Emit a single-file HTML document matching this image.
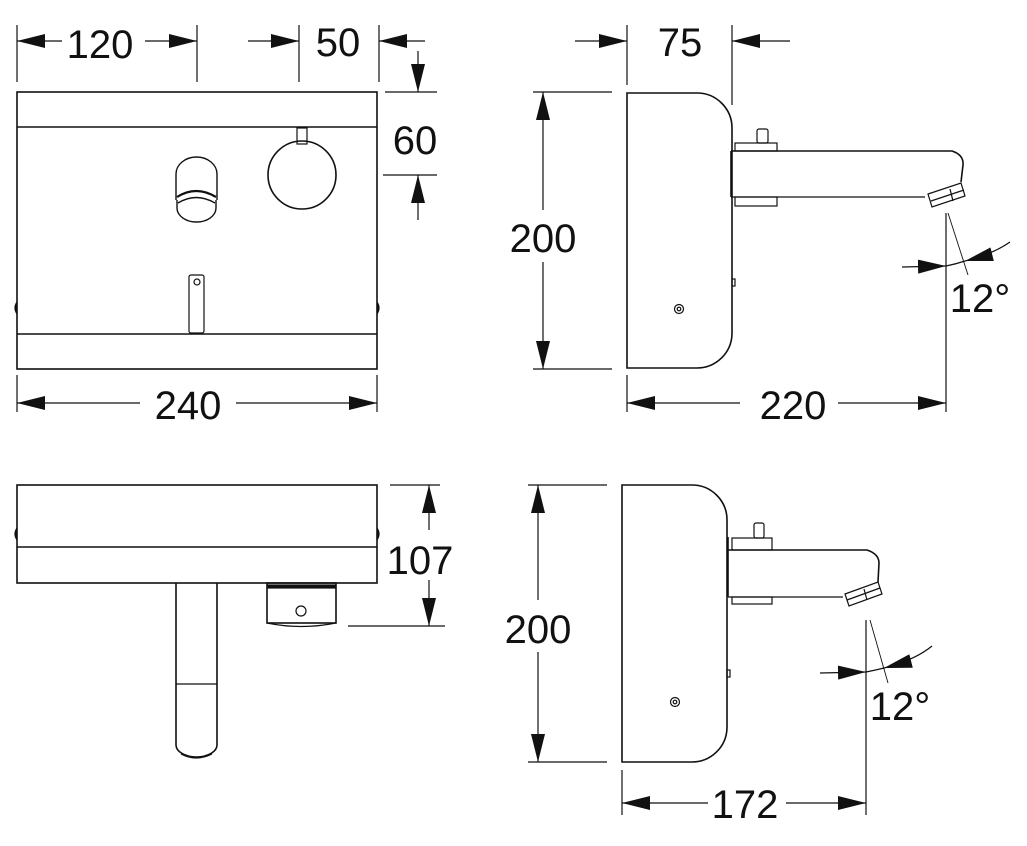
<!DOCTYPE html>
<html><head><meta charset="utf-8"><style>
html,body{margin:0;padding:0;background:#fff}
svg{display:block}
text{font-family:"Liberation Sans",sans-serif;font-size:40px;fill:#111;stroke:none;text-anchor:middle}
</style></head><body>
<svg width="1027" height="846" viewBox="0 0 1027 846" xmlns="http://www.w3.org/2000/svg">
<defs>
<marker id="a" markerUnits="userSpaceOnUse" markerWidth="28" markerHeight="14" viewBox="0 0 28 14" refX="28" refY="7" orient="auto-start-reverse"><path d="M0,0 L28,7 L0,14z" fill="#111" stroke="none"/></marker>
</defs>
<g fill="none" stroke="#111" stroke-width="1.2">
<!-- TOP LEFT VIEW -->
<rect x="17" y="92" width="360" height="277" stroke-width="1.6"/>
<line x1="17" y1="127" x2="377" y2="127" stroke-width="1.6"/>
<line x1="17" y1="334" x2="377" y2="334" stroke-width="1.6"/>
<path d="M176,200 V174 A20.5,17 0 0 1 217,174 V200" stroke-width="1.4"/>
<path d="M177,197 Q196,185 216,197" stroke-width="2.2"/>
<path d="M178,203 Q196,192 215,203" stroke-width="1.4"/>
<path d="M177,200 V208 A19.5,14 0 0 0 216,208 V200" stroke-width="1.4"/>
<circle cx="302" cy="175" r="34" stroke-width="1.6"/>
<rect x="297" y="128" width="10" height="16"/>
<rect x="189" y="275" width="15" height="58" rx="2"/>
<circle cx="197" cy="282" r="3"/>
<path d="M17,302 q-4,6 0,12" fill="#111"/><path d="M377,302 q4,6 0,12" fill="#111"/>
<!-- dims -->
<line x1="17" y1="25" x2="17" y2="82"/><line x1="197" y1="25" x2="197" y2="82"/>
<line x1="62" y1="41" x2="17" y2="41" marker-end="url(#a)"/><line x1="145" y1="41" x2="197" y2="41" marker-end="url(#a)"/>
<text x="100" y="58">120</text>
<line x1="299" y1="25" x2="299" y2="82"/><line x1="379" y1="25" x2="379" y2="82"/>
<line x1="248" y1="41" x2="299" y2="41" marker-end="url(#a)"/><line x1="425" y1="41" x2="379" y2="41" marker-end="url(#a)"/>
<text x="338" y="56">50</text>
<line x1="385" y1="92" x2="437" y2="92"/><line x1="383" y1="175" x2="437" y2="175"/>
<line x1="418" y1="51" x2="418" y2="92" marker-end="url(#a)"/><line x1="418" y1="220" x2="418" y2="175" marker-end="url(#a)"/>
<text x="415" y="154">60</text>
<line x1="17" y1="375" x2="17" y2="412"/><line x1="377" y1="375" x2="377" y2="412"/>
<line x1="140" y1="403" x2="17" y2="403" marker-end="url(#a)"/><line x1="236" y1="403" x2="377" y2="403" marker-end="url(#a)"/>
<text x="188" y="419">240</text>

<!-- TOP RIGHT VIEW -->
<path d="M627,93 H697 A35,35 0 0 1 732,128 V334 A35,35 0 0 1 697,368 H627 Z" stroke-width="1.6"/>
<path d="M731,151 H952 Q964,155 963,165 L961,182" stroke-width="1.6"/>
<line x1="731" y1="151" x2="731" y2="197" stroke-width="1.6"/>
<path d="M731,197 H925"/>
<path d="M928,194 L961,183 L965,196 L932,207 Z"/><path d="M931,201 L964,190"/><line x1="950" y1="189" x2="953" y2="201"/>
<rect x="735" y="143" width="42" height="8"/><rect x="757" y="129" width="11" height="14" rx="2"/>
<rect x="735" y="197" width="42" height="9"/>
<circle cx="679" cy="309" r="4.5"/><circle cx="679" cy="309" r="1.8"/>
<rect x="732" y="279" width="3" height="7"/>
<line x1="627" y1="25" x2="627" y2="85"/><line x1="732" y1="25" x2="732" y2="105"/>
<line x1="575" y1="41" x2="627" y2="41" marker-end="url(#a)"/><line x1="790" y1="41" x2="732" y2="41" marker-end="url(#a)"/>
<text x="680" y="56">75</text>
<line x1="533" y1="92" x2="612" y2="92"/><line x1="533" y1="369" x2="612" y2="369"/>
<line x1="543" y1="210" x2="543" y2="92" marker-end="url(#a)"/><line x1="543" y1="262" x2="543" y2="369" marker-end="url(#a)"/>
<text x="543" y="252">200</text>
<line x1="627" y1="375" x2="627" y2="412"/><line x1="946" y1="213" x2="946" y2="412"/>
<line x1="740" y1="403" x2="627" y2="403" marker-end="url(#a)"/><line x1="838" y1="403" x2="946" y2="403" marker-end="url(#a)"/>
<text x="793" y="419">220</text>
<line x1="948" y1="213" x2="968" y2="275" stroke-width="0.9"/>
<path d="M902,267 L946,266" marker-end="url(#a)"/>
<path d="M1010,242 Q993,254 965,261" marker-end="url(#a)"/>
<path d="M946,266 Q956,264 965,261"/>
<text x="980" y="312">12°</text>

<!-- BOTTOM LEFT VIEW -->
<rect x="17" y="485" width="360" height="98" stroke-width="1.6"/>
<line x1="17" y1="547" x2="377" y2="547" stroke-width="1.6"/>
<path d="M17,528 q-4,6 0,12" fill="#111"/><path d="M377,528 q4,6 0,12" fill="#111"/>
<path d="M176,583 V745 A20.5,12 0 0 0 217,745 V583" stroke-width="1.6"/>
<line x1="176" y1="684" x2="217" y2="684"/>
<path d="M181,754 Q196,762 212,754"/>
<rect x="267" y="583" width="69" height="40" stroke-width="1.6"/>
<rect x="268" y="585" width="67" height="3" fill="#111"/>
<path d="M267,623 Q301,630 336,623"/>
<circle cx="301" cy="611" r="5"/>
<line x1="390" y1="485" x2="440" y2="485"/><line x1="348" y1="626" x2="445" y2="626"/>
<line x1="429" y1="530" x2="429" y2="485" marker-end="url(#a)"/><line x1="429" y1="580" x2="429" y2="626" marker-end="url(#a)"/>
<text x="420" y="574">107</text>

<!-- BOTTOM RIGHT VIEW -->
<path d="M622,485 H692 A35,35 0 0 1 727,520 V728 A35,35 0 0 1 692,762 H622 Z" stroke-width="1.6"/>
<path d="M728,550 H867 Q879,554 879,563 L878,582" stroke-width="1.6"/>
<line x1="728" y1="537" x2="728" y2="597" stroke-width="1.6"/>
<path d="M728,597 H843"/>
<path d="M845,594 L878,582 L882,594 L849,606 Z"/><path d="M847,600 L880,588"/><line x1="864" y1="589" x2="867" y2="600"/>
<rect x="732" y="538" width="40" height="12"/><rect x="754" y="523" width="10" height="15" rx="2"/>
<rect x="732" y="597" width="40" height="7"/>
<circle cx="675" cy="702" r="4.5"/><circle cx="675" cy="702" r="1.8"/>
<rect x="727" y="670" width="3" height="7"/>
<line x1="528" y1="485" x2="607" y2="485"/><line x1="528" y1="762" x2="607" y2="762"/>
<line x1="538" y1="600" x2="538" y2="485" marker-end="url(#a)"/><line x1="538" y1="652" x2="538" y2="762" marker-end="url(#a)"/>
<text x="538" y="643">200</text>
<line x1="622" y1="770" x2="622" y2="815"/><line x1="866" y1="620" x2="866" y2="815"/>
<line x1="708" y1="803" x2="622" y2="803" marker-end="url(#a)"/><line x1="786" y1="803" x2="866" y2="803" marker-end="url(#a)"/>
<text x="745" y="818">172</text>
<line x1="870" y1="620" x2="888" y2="683" stroke-width="0.9"/>
<path d="M820,673 L866,672" marker-end="url(#a)"/>
<path d="M932,646 Q915,660 884,668" marker-end="url(#a)"/>
<path d="M866,672 Q876,670 884,668"/>
<text x="900" y="720">12°</text>
</g>
</svg>
</body></html>
